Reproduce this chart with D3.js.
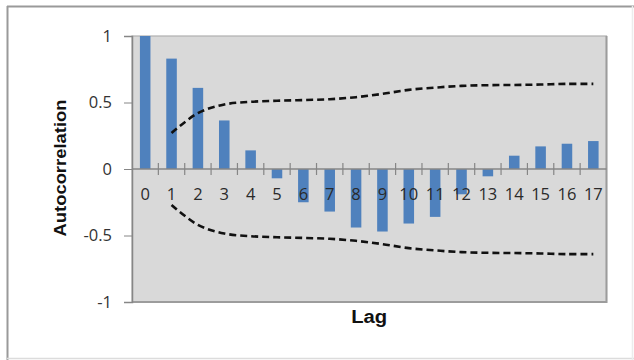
<!DOCTYPE html>
<html>
<head>
<meta charset="utf-8">
<script src="https://cdn.jsdelivr.net/npm/d3@7"></script>
<style>
  html, body { margin: 0; padding: 0; background: #fff; }
  svg { display: block; }
</style>
</head>
<body>
<svg id="chart" width="634" height="360"></svg>
<script>
const lags = [0,1,2,3,4,5,6,7,8,9,10,11,12,13,14,15,16,17];
const acf = [1, 0.83, 0.61, 0.365, 0.14, -0.07, -0.25, -0.32, -0.44, -0.47, -0.41, -0.36, -0.19, -0.055, 0.10, 0.17, 0.19, 0.21];
const confLags = [1,2,3,4,5,6,7,8,9,10,11,12,13,14,15,16,17];
const confBound = [0.27, 0.42, 0.485, 0.505, 0.513, 0.518, 0.525, 0.54, 0.565, 0.595, 0.612, 0.625, 0.63, 0.632, 0.635, 0.64, 0.64];
const yTicks = [1, 0.5, 0, -0.5, -1];
const yTickLabels = ["1", "0.5", "0", "-0.5", "-1"];

(function () {
const svg = d3.select("#chart");
const pL = 132, pR = 606.5, pT = 36, pB = 302;

// outer frame (strong top/left edges, faint bottom/right)
svg.append("line").attr("x1", 7).attr("x2", 634).attr("y1", 6.5).attr("y2", 6.5)
  .attr("stroke", "#9a9a9a").attr("stroke-width", 2);
svg.append("line").attr("x1", 7.5).attr("x2", 7.5).attr("y1", 6).attr("y2", 360)
  .attr("stroke", "#9a9a9a").attr("stroke-width", 2);
svg.append("line").attr("x1", 7).attr("x2", 634).attr("y1", 358.5).attr("y2", 358.5)
  .attr("stroke", "#dcdcdc").attr("stroke-width", 1.5);
svg.append("line").attr("x1", 632.5).attr("x2", 632.5).attr("y1", 6).attr("y2", 360)
  .attr("stroke", "#ececec").attr("stroke-width", 1.5);

const x = d3.scaleBand().domain(lags).range([pL, pR]).padding(0);
const y = d3.scaleLinear().domain([-1, 1]).range([pB, pT]);

// plot area
svg.append("rect").attr("x", pL).attr("y", pT).attr("width", pR - pL).attr("height", pB - pT)
  .attr("fill", "#d9d9d9").attr("stroke", "#b0b0b0").attr("stroke-width", 1.2);
svg.append("path").attr("d", `M${pR},${pT} V${pB} H${pL}`)
  .attr("fill", "none").attr("stroke", "#9c9c9c").attr("stroke-width", 2);

// bars
const bw = x.bandwidth() * 0.4;
svg.append("g").selectAll("rect").data(lags).join("rect")
  .attr("x", d => x(d) + x.bandwidth() / 2 - bw / 2)
  .attr("width", bw)
  .attr("y", (d, i) => y(Math.max(0, acf[i])))
  .attr("height", (d, i) => Math.abs(y(acf[i]) - y(0)))
  .attr("fill", "#4f81bd");

// confidence bounds
const line = d3.line()
  .x((d, i) => x(confLags[i]) + x.bandwidth() / 2)
  .y(d => y(d))
  .curve(d3.curveCatmullRom);
[1, -1].forEach(s => {
  svg.append("path").datum(confBound.map(v => s * v))
    .attr("d", line).attr("fill", "none")
    .attr("stroke", "#111").attr("stroke-width", 2.6)
    .attr("stroke-dasharray", "7,4");
});

// y axis
const yAxis = svg.append("g").attr("transform", `translate(${pL},0)`)
  .call(d3.axisLeft(y).tickValues(yTicks).tickSize(8).tickPadding(12)
    .tickFormat((d, i) => yTickLabels[i]));
yAxis.select(".domain").attr("stroke", "#868686").attr("stroke-width", 1.5);
yAxis.selectAll(".tick line").attr("stroke", "#868686");
yAxis.selectAll(".tick text").attr("font-family", "'Open Sans', sans-serif")
  .attr("font-size", 16.5).attr("fill", "#333");

// zero axis
svg.append("line").attr("x1", pL).attr("x2", pR).attr("y1", y(0)).attr("y2", y(0))
  .attr("stroke", "#868686").attr("stroke-width", 1.5);
// category boundary ticks (cross)
const bounds = lags.slice(1);
svg.append("g").selectAll("line").data(bounds).join("line")
  .attr("x1", d => x(d)).attr("x2", d => x(d))
  .attr("y1", y(0) - 6).attr("y2", y(0) + 6)
  .attr("stroke", "#868686").attr("stroke-width", 1.2);

// x labels
svg.append("g").selectAll("text").data(lags).join("text")
  .attr("x", d => x(d) + x.bandwidth() / 2)
  .attr("y", y(0) + 31)
  .attr("text-anchor", "middle")
  .attr("font-family", "'Open Sans', sans-serif").attr("font-size", 16.5)
  .attr("fill", "#2a2a2a")
  .text(d => d);

// axis titles
svg.append("text").attr("transform", `translate(66,${(pT + pB) / 2 - 1}) rotate(-90)`)
  .attr("text-anchor", "middle")
  .attr("font-family", "'Liberation Sans', Arial, sans-serif").attr("font-weight", "bold")
  .attr("font-size", 17).attr("fill", "#111")
  .attr("textLength", 137).attr("lengthAdjust", "spacingAndGlyphs")
  .text("Autocorrelation");
svg.append("text").attr("x", (pL + pR) / 2).attr("y", 323)
  .attr("text-anchor", "middle")
  .attr("font-family", "'Liberation Sans', Arial, sans-serif").attr("font-weight", "bold")
  .attr("font-size", 18).attr("fill", "#111")
  .attr("textLength", 36).attr("lengthAdjust", "spacingAndGlyphs")
  .text("Lag");
})();
</script>
</body>
</html>
